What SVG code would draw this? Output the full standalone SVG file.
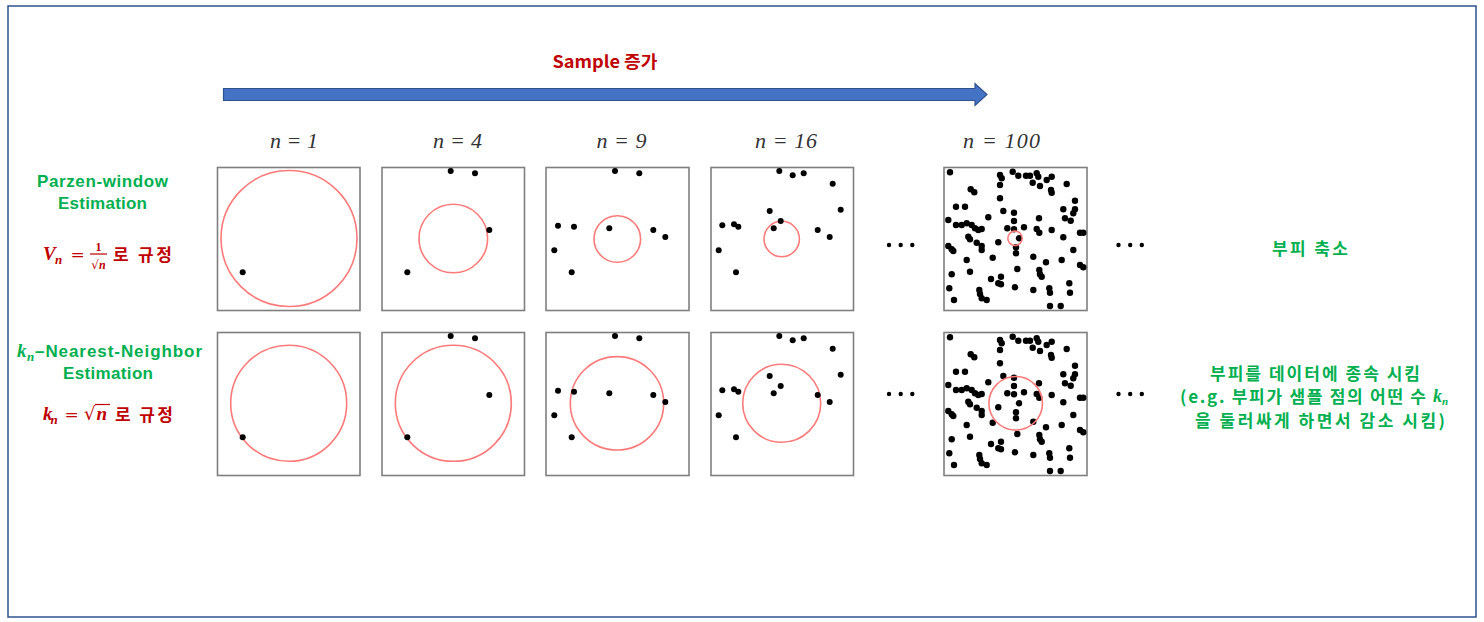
<svg xmlns="http://www.w3.org/2000/svg" xmlns:xlink="http://www.w3.org/1999/xlink" width="1484" height="622" viewBox="0 0 1484 622">
<style>
.frame{fill:#fff;stroke:#2F528F;stroke-width:1.5}
.box{fill:#fff;stroke:#7f7f7f;stroke-width:1.6}
.win{fill:none;stroke:#FF7A7A;stroke-width:1.6}
.dots circle{fill:#000}
.nl{font-family:"Liberation Serif",serif;font-style:italic;font-size:22px;fill:#333}
.g{font-family:"Liberation Sans","Noto Sans CJK KR",sans-serif;font-weight:bold;font-size:17px;fill:#00B050}
.gk{font-family:"Noto Sans CJK KR",sans-serif;font-weight:bold;font-size:17px;fill:#00B050}
.r{font-family:"Noto Sans CJK KR",sans-serif;font-weight:bold;font-size:17px;fill:#C00000}
.m{font-family:"Liberation Serif","DejaVu Serif",serif;font-weight:bold;font-style:italic}
.mu{font-family:"Liberation Serif","DejaVu Serif",serif;font-weight:bold;font-style:normal}
.mr{font-family:"DejaVu Serif","Liberation Serif",serif}
.ell circle{fill:#000}
</style>
<defs>
<g id="d1"><circle cx="242.7" cy="272.3" r="3"/></g>
<g id="d4"><circle cx="450.7" cy="171" r="3"/><circle cx="475" cy="173.3" r="3"/><circle cx="489.3" cy="230" r="3"/><circle cx="407.3" cy="272.3" r="3"/></g>
<g id="d9"><circle cx="615" cy="171" r="3"/><circle cx="639.3" cy="173.3" r="3"/><circle cx="558" cy="225.7" r="3"/><circle cx="574" cy="226.7" r="3"/><circle cx="609.3" cy="228.3" r="3"/><circle cx="653.3" cy="230" r="3"/><circle cx="665.3" cy="237" r="3"/><circle cx="554.3" cy="250.3" r="3"/><circle cx="571.7" cy="272.3" r="3"/></g>
<g id="d16"><circle cx="779.3" cy="171" r="3"/><circle cx="792.7" cy="175.3" r="3"/><circle cx="803.7" cy="173.3" r="3"/><circle cx="832.7" cy="183.7" r="3"/><circle cx="840.7" cy="209.7" r="3"/><circle cx="769.7" cy="211" r="3"/><circle cx="780.7" cy="221" r="3"/><circle cx="773.7" cy="228.3" r="3"/><circle cx="722.3" cy="225.3" r="3"/><circle cx="734" cy="224.3" r="3"/><circle cx="738.3" cy="226.7" r="3"/><circle cx="817.7" cy="230" r="3"/><circle cx="829.7" cy="237" r="3"/><circle cx="718.7" cy="250.3" r="3"/><circle cx="736" cy="272.3" r="3"/></g>
<g id="d100">
<circle cx="950" cy="172.3" r="3.2"/><circle cx="1000" cy="175" r="3.2"/><circle cx="1001.7" cy="178.3" r="3.2"/><circle cx="1012.7" cy="171.7" r="3.2"/><circle cx="1018.3" cy="175.7" r="3.2"/><circle cx="1026" cy="175.7" r="3.2"/><circle cx="1030" cy="175.7" r="3.2"/><circle cx="1036.7" cy="173.3" r="3.2"/><circle cx="1038.3" cy="176.7" r="3.2"/><circle cx="1032.7" cy="182.7" r="3.2"/><circle cx="1040" cy="186" r="3.2"/><circle cx="1046.7" cy="180" r="3.2"/><circle cx="1051.7" cy="176.7" r="3.2"/><circle cx="1000" cy="185" r="3.2"/><circle cx="1066.7" cy="184" r="3.2"/><circle cx="970.7" cy="189.3" r="3.2"/><circle cx="974.3" cy="192.3" r="3.2"/><circle cx="1051" cy="190" r="3.2"/><circle cx="1051.7" cy="192.7" r="3.2"/><circle cx="1000" cy="198.3" r="3.2"/><circle cx="1075" cy="200.7" r="3.2"/><circle cx="956" cy="206.7" r="3.2"/><circle cx="965" cy="206.7" r="3.2"/><circle cx="1063.3" cy="209.3" r="3.2"/><circle cx="1075" cy="209.3" r="3.2"/><circle cx="1073.3" cy="213.3" r="3.2"/><circle cx="1003.3" cy="211" r="3.2"/><circle cx="1014" cy="212.7" r="3.2"/><circle cx="988.3" cy="217.3" r="3.2"/><circle cx="1039" cy="218.3" r="3.2"/><circle cx="1065" cy="218.3" r="3.2"/><circle cx="1070.7" cy="220.7" r="3.2"/><circle cx="948.3" cy="220" r="3.2"/><circle cx="956" cy="225" r="3.2"/><circle cx="961.7" cy="225" r="3.2"/><circle cx="966.7" cy="223.3" r="3.2"/><circle cx="971.7" cy="225" r="3.2"/><circle cx="975" cy="228.3" r="3.2"/><circle cx="981.7" cy="229" r="3.2"/><circle cx="978.3" cy="230" r="3.2"/><circle cx="1014" cy="221" r="3.2"/><circle cx="1007.3" cy="228.3" r="3.2"/><circle cx="1014" cy="229.3" r="3.2"/><circle cx="1024" cy="227.3" r="3.2"/><circle cx="1036.7" cy="229" r="3.2"/><circle cx="1039.3" cy="232.7" r="3.2"/><circle cx="1051.7" cy="230" r="3.2"/><circle cx="1080" cy="232.7" r="3.2"/><circle cx="1083.3" cy="232.7" r="3.2"/><circle cx="968.3" cy="236.7" r="3.2"/><circle cx="970" cy="239.3" r="3.2"/><circle cx="1063.3" cy="237.3" r="3.2"/><circle cx="1019" cy="238.3" r="3.2"/><circle cx="976.7" cy="242.7" r="3.2"/><circle cx="981.7" cy="246" r="3.2"/><circle cx="981.7" cy="250" r="3.2"/><circle cx="998.3" cy="242.3" r="3.2"/><circle cx="948.3" cy="246" r="3.2"/><circle cx="951.7" cy="249.3" r="3.2"/><circle cx="953.3" cy="251" r="3.2"/><circle cx="1016" cy="247.3" r="3.2"/><circle cx="1016" cy="253.3" r="3.2"/><circle cx="1073.3" cy="250" r="3.2"/><circle cx="966.7" cy="260" r="3.2"/><circle cx="992.7" cy="257.7" r="3.2"/><circle cx="1033.3" cy="256.7" r="3.2"/><circle cx="1046" cy="262.3" r="3.2"/><circle cx="1061.7" cy="260" r="3.2"/><circle cx="1080" cy="265" r="3.2"/><circle cx="1083.3" cy="267.3" r="3.2"/><circle cx="1017.3" cy="269" r="3.2"/><circle cx="970" cy="271.7" r="3.2"/><circle cx="1039.3" cy="270" r="3.2"/><circle cx="1040" cy="274.3" r="3.2"/><circle cx="1041.7" cy="276.7" r="3.2"/><circle cx="951.7" cy="274.3" r="3.2"/><circle cx="1001" cy="276.7" r="3.2"/><circle cx="991" cy="279" r="3.2"/><circle cx="998.3" cy="283.3" r="3.2"/><circle cx="1001" cy="284.3" r="3.2"/><circle cx="1069.3" cy="283.3" r="3.2"/><circle cx="949.3" cy="288.3" r="3.2"/><circle cx="1015" cy="287.3" r="3.2"/><circle cx="979.3" cy="290" r="3.2"/><circle cx="980" cy="294" r="3.2"/><circle cx="981.7" cy="298.3" r="3.2"/><circle cx="986.7" cy="300" r="3.2"/><circle cx="1033.3" cy="290" r="3.2"/><circle cx="1049.3" cy="288.3" r="3.2"/><circle cx="1050" cy="292.7" r="3.2"/><circle cx="1070" cy="292.7" r="3.2"/><circle cx="954" cy="300" r="3.2"/><circle cx="1050" cy="306" r="3.2"/><circle cx="1060.7" cy="306" r="3.2"/>
</g>
<g id="ellipsis"><circle cx="0" cy="0" r="2.2"/><circle cx="11.7" cy="0" r="2.2"/><circle cx="23.3" cy="0" r="2.2"/></g>
</defs>

<rect class="frame" x="8" y="6" width="1468" height="611"/>

<g id="arrow">
<path d="M223.5,88.5 H975 V83.5 L987,94.5 L975,105.5 V100.5 H223.5 Z" fill="#4472C4" stroke="#2F528F" stroke-width="1.2"/>
<text x="605" y="68" class="r" text-anchor="middle" textLength="105" lengthAdjust="spacingAndGlyphs">Sample 증가</text>
</g>

<g id="n-labels">
<text class="nl" x="294" y="148" text-anchor="middle" textLength="48">n = 1</text>
<text class="nl" x="457.5" y="148" text-anchor="middle" textLength="49">n = 4</text>
<text class="nl" x="621.5" y="148" text-anchor="middle" textLength="50">n = 9</text>
<text class="nl" x="786" y="148" text-anchor="middle" textLength="62">n = 16</text>
<text class="nl" x="1001.5" y="148" text-anchor="middle" textLength="77">n = 100</text>
</g>

<g id="label-parzen">
<text class="g" x="102.5" y="187" text-anchor="middle" textLength="131">Parzen-window</text>
<text class="g" x="102.5" y="209" text-anchor="middle" textLength="89">Estimation</text>
<text class="m" x="43" y="260" font-size="19" fill="#C00000">V</text>
<text class="m" x="55" y="264" font-size="13" fill="#C00000">n</text>
<text class="mr" x="70.5" y="260" font-size="17" fill="#C00000">=</text>
<text class="mu" x="98.5" y="250.5" font-size="12" fill="#C00000" text-anchor="middle">1</text>
<line x1="90" y1="254" x2="107" y2="254" stroke="#C00000" stroke-width="1.2"/>
<text x="98.5" y="268.5" font-size="12" fill="#C00000" text-anchor="middle"><tspan class="mr">√</tspan><tspan class="m">n</tspan></text>
<text class="r" x="113" y="261" textLength="59">로 규정</text>
</g>

<g id="label-knn">
<text class="m" x="17" y="357" font-size="19" fill="#00B050">k</text>
<text class="m" x="27" y="361" font-size="13" fill="#00B050">n</text>
<text class="g" x="35" y="357" textLength="167">–Nearest-Neighbor</text>
<text class="g" x="108" y="379" text-anchor="middle" textLength="90">Estimation</text>
<text class="m" x="43" y="420" font-size="19" fill="#C00000">k</text>
<text class="m" x="50.5" y="424" font-size="13" fill="#C00000">n</text>
<text class="mr" x="64.5" y="420" font-size="17" fill="#C00000">=</text>
<text class="mr" x="84" y="420" font-size="18" fill="#C00000">√</text>
<line x1="95" y1="404.5" x2="110" y2="404.5" stroke="#C00000" stroke-width="1.2"/>
<text class="m" x="96.5" y="420" font-size="19" fill="#C00000">n</text>
<text class="r" x="115" y="421" textLength="58">로 규정</text>
</g>

<g id="panel-p1"><rect class="box" x="217.5" y="167.5" width="142.5" height="143"/><circle class="win" cx="289" cy="238.5" r="68"/><g class="dots"><use xlink:href="#d1"/></g></g>
<g id="panel-p4"><rect class="box" x="382" y="167.5" width="142.5" height="143"/><circle class="win" cx="453.3" cy="238.5" r="34.3"/><g class="dots"><use xlink:href="#d4"/></g></g>
<g id="panel-p9"><rect class="box" x="546" y="167.5" width="143" height="143"/><circle class="win" cx="617.3" cy="239" r="23.3"/><g class="dots"><use xlink:href="#d9"/></g></g>
<g id="panel-p16"><rect class="box" x="711" y="167.5" width="142.5" height="143"/><circle class="win" cx="781.7" cy="239" r="17.7"/><g class="dots"><use xlink:href="#d16"/></g></g>
<g id="panel-p100"><rect class="box" x="944" y="167.5" width="143" height="143"/><g class="dots"><use xlink:href="#d100"/></g><circle class="win" cx="1015" cy="238.3" r="7.2"/></g>

<g id="panel-k1"><rect class="box" x="217.5" y="332.5" width="142.5" height="143"/><circle class="win" cx="288.7" cy="403.3" r="58"/><g class="dots"><use xlink:href="#d1" transform="translate(0,165)"/></g></g>
<g id="panel-k4"><rect class="box" x="382" y="332.5" width="142.5" height="143"/><circle class="win" cx="453.3" cy="403.3" r="58"/><g class="dots"><use xlink:href="#d4" transform="translate(0,165)"/></g></g>
<g id="panel-k9"><rect class="box" x="546" y="332.5" width="143" height="143"/><circle class="win" cx="617" cy="403.3" r="46.7"/><g class="dots"><use xlink:href="#d9" transform="translate(0,165)"/></g></g>
<g id="panel-k16"><rect class="box" x="711" y="332.5" width="142.5" height="143"/><circle class="win" cx="781.7" cy="403.3" r="39"/><g class="dots"><use xlink:href="#d16" transform="translate(0,165)"/></g></g>
<g id="panel-k100"><rect class="box" x="944" y="332.5" width="143" height="143"/><g class="dots"><use xlink:href="#d100" transform="translate(0,165)"/></g><circle class="win" cx="1015.7" cy="403.3" r="26.8"/></g>

<g id="ellipses" class="ell">
<use xlink:href="#ellipsis" transform="translate(889,245)"/>
<use xlink:href="#ellipsis" transform="translate(1118.5,245)"/>
<use xlink:href="#ellipsis" transform="translate(889,394)"/>
<use xlink:href="#ellipsis" transform="translate(1118.5,394)"/>
</g>

<g id="note-parzen">
<text class="gk" x="1310" y="255" text-anchor="middle" textLength="76">부피 축소</text>
</g>

<g id="note-knn">
<text class="gk" x="1315" y="380" text-anchor="middle" textLength="210">부피를 데이터에 종속 시킴</text>
<text class="gk" x="1180" y="403" textLength="246">(e.g. 부피가 샘플 점의 어떤 수</text>
<text class="m" x="1433" y="402" font-size="18" fill="#00B050">k</text>
<text class="m" x="1442" y="405" font-size="11" fill="#00B050">n</text>
<text class="gk" x="1320" y="427" text-anchor="middle" textLength="250">을 둘러싸게 하면서 감소 시킴)</text>
</g>
</svg>
